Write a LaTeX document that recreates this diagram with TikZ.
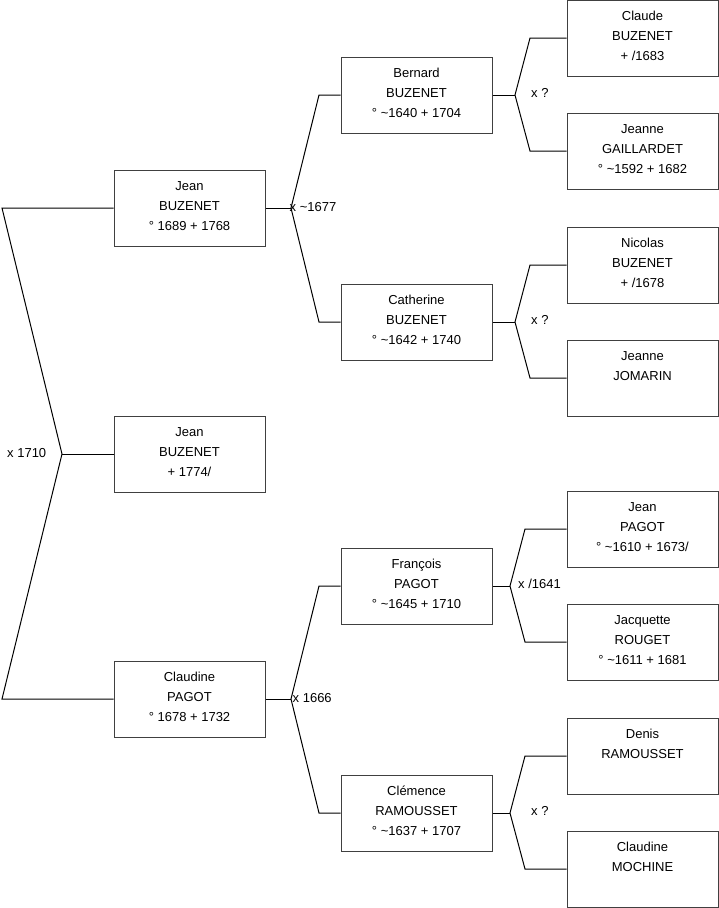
\documentclass[tikz,border=0pt]{standalone}
\usepackage{fontspec}
\setmainfont{Liberation Sans}

\begin{document}
\begin{tikzpicture}[
  x=1pt, y=-1pt,
  every node/.style={font=\fontsize{13}{20}\selectfont},
  person/.style={draw=black!75, line width=1pt, minimum width=151pt,
    minimum height=76pt, inner sep=0pt},
  personName/.style={anchor=north, align=center, inner sep=0pt},
  link/.style={black, line width=1pt},
  unionText/.style={anchor=base west, inner sep=0pt}
]
\useasboundingbox (0,0) rectangle (719,908);

% Generation 1
\node[person, label={[personName]north:\rule{0pt}{21pt}Jean\\BUZENET\\° 1689 + 1768}]
  (jeanB) at (189.5,208) {};
\node[person, label={[personName]north:\rule{0pt}{21pt}Jean\\BUZENET\\+ 1774/}]
  (jeanD) at (189.5,454) {};
\node[person, label={[personName]north:\rule{0pt}{21pt}Claudine\\PAGOT\\° 1678 + 1732}]
  (claudineP) at (189.5,699) {};

% Generation 2
\node[person, label={[personName]north:\rule{0pt}{21pt}Bernard\\BUZENET\\° \textasciitilde1640 + 1704}]
  (bernardB) at (416.5,95) {};
\node[person, label={[personName]north:\rule{0pt}{21pt}Catherine\\BUZENET\\° \textasciitilde1642 + 1740}]
  (catherineB) at (416.5,322) {};
\node[person, label={[personName]north:\rule{0pt}{21pt}François\\PAGOT\\° \textasciitilde1645 + 1710}]
  (francoisP) at (416.5,586) {};
\node[person, label={[personName]north:\rule{0pt}{21pt}Clémence\\RAMOUSSET\\° \textasciitilde1637 + 1707}]
  (clemenceR) at (416.5,813) {};

% Generation 3
\node[person, label={[personName]north:\rule{0pt}{21pt}Claude\\BUZENET\\+ /1683}]
  (claudeB) at (642.5,38) {};
\node[person, label={[personName]north:\rule{0pt}{21pt}Jeanne\\GAILLARDET\\° \textasciitilde1592 + 1682}]
  (jeanneG) at (642.5,151) {};
\node[person, label={[personName]north:\rule{0pt}{21pt}Nicolas\\BUZENET\\+ /1678}]
  (nicolasB) at (642.5,265) {};
\node[person, label={[personName]north:\rule{0pt}{21pt}Jeanne\\JOMARIN}]
  (jeanneJ) at (642.5,378) {};
\node[person, label={[personName]north:\rule{0pt}{21pt}Jean\\PAGOT\\° \textasciitilde1610 + 1673/}]
  (jeanP) at (642.5,529) {};
\node[person, label={[personName]north:\rule{0pt}{21pt}Jacquette\\ROUGET\\° \textasciitilde1611 + 1681}]
  (jacquetteR) at (642.5,642) {};
\node[person, label={[personName]north:\rule{0pt}{21pt}Denis\\RAMOUSSET}]
  (denisR) at (642.5,756) {};
\node[person, label={[personName]north:\rule{0pt}{21pt}Claudine\\MOCHINE}]
  (claudineM) at (642.5,869) {};

% Union brackets
\coordinate (u0) at (62,454);
\coordinate (u0t) at (2,208);
\coordinate (u0b) at (2,699);
\coordinate (u1) at (291,208);
\coordinate (u1t) at (319,95);
\coordinate (u1b) at (319,322);
\coordinate (u2) at (291,699);
\coordinate (u2t) at (319,586);
\coordinate (u2b) at (319,813);
\coordinate (u3) at (515,95);
\coordinate (u3t) at (530,38);
\coordinate (u3b) at (530,151);
\coordinate (u4) at (515,322);
\coordinate (u4t) at (530,265);
\coordinate (u4b) at (530,378);
\coordinate (u5) at (510,586);
\coordinate (u5t) at (525,529);
\coordinate (u5b) at (525,642);
\coordinate (u6) at (510,813);
\coordinate (u6t) at (525,756);
\coordinate (u6b) at (525,869);

\draw[link] (jeanB.west) -- (u0t) -- (u0) -- (u0b) -- (claudineP.west);
\draw[link] (u0) -- (jeanD.west);
\draw[link] (jeanB.east) -- (u1);
\draw[link] (bernardB.west) -- (u1t) -- (u1) -- (u1b) -- (catherineB.west);
\draw[link] (claudineP.east) -- (u2);
\draw[link] (francoisP.west) -- (u2t) -- (u2) -- (u2b) -- (clemenceR.west);
\draw[link] (bernardB.east) -- (u3);
\draw[link] (claudeB.west) -- (u3t) -- (u3) -- (u3b) -- (jeanneG.west);
\draw[link] (catherineB.east) -- (u4);
\draw[link] (nicolasB.west) -- (u4t) -- (u4) -- (u4b) -- (jeanneJ.west);
\draw[link] (francoisP.east) -- (u5);
\draw[link] (jeanP.west) -- (u5t) -- (u5) -- (u5b) -- (jacquetteR.west);
\draw[link] (clemenceR.east) -- (u6);
\draw[link] (denisR.west) -- (u6t) -- (u6) -- (u6b) -- (claudineM.west);

% Marriage dates
\node[unionText] (m0) at (7,457) {x 1710};
\node[unionText] (m1) at (289.5,211) {x \textasciitilde1677};
\node[unionText] (m2) at (292.5,702) {x 1666};
\node[unionText] (m3) at (531,97) {x ?};
\node[unionText] (m4) at (531,324) {x ?};
\node[unionText] (m5) at (518,588) {x /1641};
\node[unionText] (m6) at (531,815) {x ?};
\end{tikzpicture}
\end{document}
